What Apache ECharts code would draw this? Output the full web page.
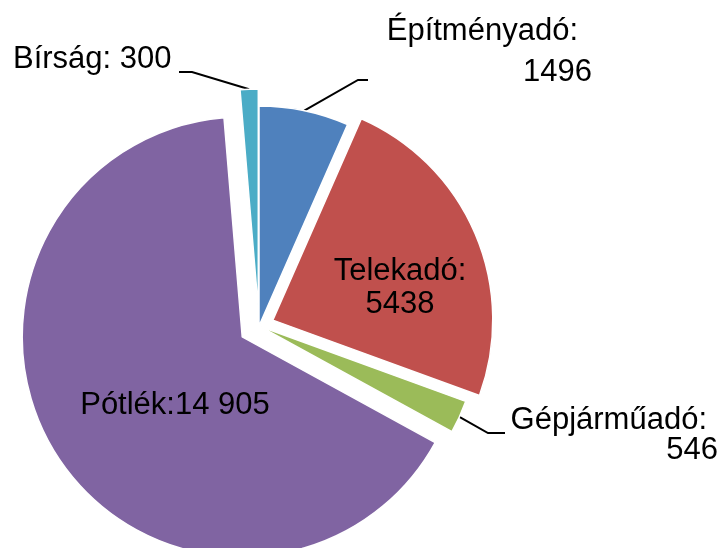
<!DOCTYPE html>
<html>
<head>
<meta charset="utf-8">
<script src="https://cdn.jsdelivr.net/npm/echarts@6/dist/echarts.min.js"></script>
<style>
  html, body { margin: 0; padding: 0; background: #fff; }
  #chart { width: 718px; height: 548px; }
</style>
</head>
<body>
<div id="chart"></div>
<script>
// adatok
var categories = ['Építményadó', 'Telekadó', 'Gépjárműadó', 'Pótlék', 'Bírság'];
var values = [1496, 5438, 546, 14905, 300];
var valueTexts = ['1496', '5438', '546', '14 905', '300'];

var colors = ['#4f81bd', '#c0504d', '#9bbb59', '#8064a2', '#4bacc6'];
// kiemelt (kihúzott) szeletek és a kihúzás mértéke px-ben
var explode = { 'Telekadó': 15, 'Pótlék': 20, 'Bírság': 17 };

var pieCenter = [259, 326];
var pieRadius = 220;
var fontFamily = 'Liberation Sans, Arial, sans-serif';

// címkék helye (x, y, igazítás) és a vezetővonal könyöke
var labelSpots = {
    'Építményadó': { x: 592, y: 52, align: 'right', elbowX: 358, endX: 368, lineY: 80 },
    'Telekadó':    { x: 400, y: 288, align: 'center' },
    'Gépjárműadó': { x: 718, y: 435, align: 'right', elbowX: 488, endX: 505, lineY: 433 },
    'Pótlék':      { x: 175, y: 405, align: 'center' },
    'Bírság':      { x: 13, y: 59, align: 'left', elbowX: 192, endX: 179, lineY: 72 }
};

var chart = echarts.init(document.getElementById('chart'));

var total = values.reduce(function (a, b) { return a + b; }, 0);

function labelFor(name, i) {
    if (name === 'Építményadó') {
        return { formatter: '{t|' + name + ':}\n{v|' + valueTexts[i] + '}', lineHeight: 41 };
    } else if (name === 'Gépjárműadó') {
        return { formatter: '{g|' + name + ':}\n{v|' + valueTexts[i] + '}', lineHeight: 30 };
    } else if (name === 'Telekadó') {
        return { formatter: name + ':\n' + valueTexts[i], lineHeight: 33 };
    } else if (name === 'Pótlék') {
        return { formatter: name + ':' + valueTexts[i] };
    }
    return { formatter: name + ': ' + valueTexts[i] };
}

// csoportok: a nem kihúzott szeletek egy körben, a kihúzottak külön-külön
var groups = [{ members: categories.filter(function (n) { return !explode[n]; }), dist: 0, mid: 0 }];
var acc = 0;
categories.forEach(function (name, i) {
    var mid = (acc + values[i] / 2) / total * 2 * Math.PI;
    acc += values[i];
    if (explode[name]) {
        groups.push({ members: [name], dist: explode[name], mid: mid });
    }
});

var series = groups.map(function (g) {
    var cx = pieCenter[0] + g.dist * Math.sin(g.mid);
    var cy = pieCenter[1] - g.dist * Math.cos(g.mid);
    var data = categories.map(function (name, i) {
        var on = g.members.indexOf(name) >= 0;
        if (!on) {
            return {
                name: name,
                value: values[i],
                itemStyle: { color: 'rgba(0,0,0,0)', borderWidth: 0 },
                label: { show: false },
                labelLine: { show: false }
            };
        }
        var inside = (name === 'Telekadó' || name === 'Pótlék');
        return {
            name: name,
            value: values[i],
            itemStyle: { color: colors[i] },
            label: labelFor(name, i),
            labelLine: { show: !inside }
        };
    });
    return {
        type: 'pie',
        center: [cx, cy],
        radius: [0, pieRadius],
        startAngle: 90,
        clockwise: true,
        avoidLabelOverlap: false,
        silent: true,
        emphasis: { disabled: true },
        itemStyle: {
            borderColor: '#fff',
            borderWidth: 1.5
        },
        label: {
            show: true,
            position: 'outside',
            overflow: 'none',
            color: '#000',
            fontFamily: fontFamily,
            fontSize: 31,
            rich: {
                t: { fontSize: 31, fontFamily: fontFamily, color: '#000', padding: [0, 14, 0, 0] },
                g: { fontSize: 31, fontFamily: fontFamily, color: '#000', padding: [0, 11, 0, 0] },
                v: { fontSize: 31, fontFamily: fontFamily, color: '#000', align: 'right' }
            }
        },
        labelLine: {
            show: true,
            lineStyle: { color: '#000', width: 2 }
        },
        labelLayout: function (params) {
            var name = categories[params.dataIndex];
            if (g.members.indexOf(name) < 0) {
                return {};
            }
            var s = labelSpots[name];
            var res = { x: s.x, y: s.y, align: s.align, verticalAlign: 'middle' };
            if (s.elbowX != null && params.labelLinePoints) {
                var start = params.labelLinePoints[0];
                res.labelLinePoints = [
                    [start[0], start[1]],
                    [s.elbowX, s.lineY],
                    [s.endX, s.lineY]
                ];
            }
            return res;
        },
        data: data
    };
});

chart.setOption({
    animation: false,
    series: series
});
</script>
</body>
</html>
